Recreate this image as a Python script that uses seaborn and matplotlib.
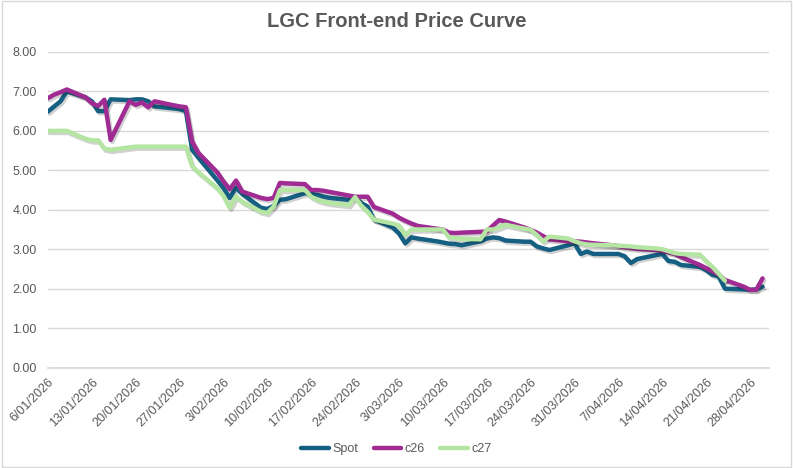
import matplotlib
matplotlib.use("Agg")
import matplotlib.pyplot as plt
import matplotlib.patheffects as pe
from matplotlib.patches import Rectangle
from matplotlib.lines import Line2D
import numpy as np
import pandas as pd
import seaborn as sns

# ── Data (business days 6 Jan – 30 Apr 2026) ────────────────────────
dates = pd.bdate_range("2026-01-06", "2026-04-30")

spot = [
    6.49, 6.62, 6.75, 7.00,
    6.85, 6.75, 6.50, 6.50, 6.80,
    6.78, 6.80, 6.80, 6.75, 6.62,
    6.57, 6.55, 6.50, 5.52, 5.32,
    4.75, 4.55, 4.30, 4.56, 4.40,
    4.05, 4.02, 4.10, 4.25, 4.27,
    4.42, 4.40, 4.38, 4.33, 4.30,
    4.25, 4.32, 4.17, 4.08, 3.75,
    3.55, 3.40, 3.15, 3.30, 3.27,
    3.20, 3.17, 3.14, 3.13, 3.10,
    3.20, 3.27, 3.30, 3.28, 3.22,
    3.19, 3.19, 3.07, 3.02, 2.98,
    3.10, 3.15,
    2.88, 2.94, 2.88,
    2.88, 2.88, 2.82, 2.65, 2.75,
    2.85, 2.88, 2.70, 2.68, 2.60,
    2.55, 2.47, 2.35, 2.31, 2.00,
    1.98, 1.97, 1.98, 2.05,
]

c26 = [
    6.83, 6.92, 6.98, 7.05,
    6.85, 6.70, 6.63, 6.79, 5.77,
    6.75, 6.66, 6.72, 6.60, 6.75,
    6.65, 6.62, 6.60, 5.73, 5.44,
    4.95, 4.72, 4.52, 4.74, 4.46,
    4.30, 4.27, 4.30, 4.68, 4.67,
    4.65, 4.50, 4.50, 4.48, 4.45,
    4.36, 4.33, 4.33, 4.33, 4.07,
    3.90, 3.80, 3.72, 3.65, 3.59,
    3.52, 3.50, 3.42, 3.41, 3.42,
    3.44, 3.45, 3.60, 3.74, 3.70,
    3.55, 3.49, 3.42, 3.33, 3.25,
    3.20, 3.20,
    3.19, 3.17, 3.15,
    3.10, 3.08, 3.05, 3.03, 3.01,
    2.98, 2.96, 2.92, 2.88, 2.80,
    2.60, 2.52, 2.44, 2.36, 2.22,
    2.05, 1.97, 1.97, 2.26,
]

c27 = [
    6.00, 6.00, 6.00, 6.00,
    5.80, 5.76, 5.76, 5.55, 5.52,
    5.58, 5.60, 5.60, 5.60, 5.60,
    5.60, 5.60, 5.60, 5.10, 4.95,
    4.55, 4.35, 4.05, 4.34, 4.20,
    3.95, 3.92, 4.08, 4.50, 4.50,
    4.50, 4.33, 4.25, 4.20, 4.17,
    4.12, 4.32, 4.10, 3.95, 3.75,
    3.65, 3.60, 3.36, 3.50, 3.50,
    3.50, 3.50, 3.30, 3.28, 3.26,
    3.25, 3.50, 3.50, 3.55, 3.62,
    3.52, 3.49, 3.36, 3.20, 3.32,
    3.27, 3.20,
    3.15, 3.12, 3.11,
    3.10, 3.09, 3.08, 3.07, 3.05,
    3.02, 3.00, 2.95, 2.90, 2.88,
    2.86, 2.70, 2.55, 2.38, 2.20,
    np.nan, np.nan, np.nan, np.nan,
]

series_names = ["Spot", "c26", "c27"]
colors = {"Spot": "#156082", "c26": "#A02B93", "c27": "#B4E5A2"}

df = pd.DataFrame({"Date": dates, "Spot": spot, "c26": c26, "c27": c27})
long_df = df.melt(id_vars="Date", var_name="Series", value_name="Price").dropna()

# ── Theme ────────────────────────────────────────────────────────────
sns.set_theme(style="white")
plt.rcParams["font.family"] = ["Liberation Sans", "DejaVu Sans"]
text_grey = "#595959"

fig = plt.figure(figsize=(7.93, 4.68), dpi=100)
ax = fig.add_axes([0.0605, 0.2147, 0.909, 0.6742])

sns.lineplot(
    data=long_df, x="Date", y="Price", hue="Series",
    hue_order=series_names, palette=colors,
    linewidth=3.2, legend=False, ax=ax,
)
for line in ax.lines:
    line.set_solid_joinstyle("round")
    line.set_solid_capstyle("round")
    line.set_path_effects([
        pe.SimpleLineShadow(offset=(1.2, -1.5), shadow_color="black", alpha=0.18),
        pe.Normal(),
    ])

# axes
ax.set_ylim(0, 8)
ax.set_yticks(np.arange(0, 9, 1))
ax.yaxis.set_major_formatter(plt.FuncFormatter(lambda v, _: f"{v:.2f}"))
ax.grid(axis="y", color="#d9d9d9", linewidth=1)
ax.set_axisbelow(True)

start = pd.Timestamp("2026-01-06")
ax.set_xlim(start, pd.Timestamp("2026-05-01"))
tick_dates = pd.date_range(start, "2026-04-28", freq="7D")
ax.set_xticks(tick_dates)
ax.set_xticklabels([f"{d.day}/{d.month:02d}/{d.year}" for d in tick_dates],
                   rotation=45, ha="right", rotation_mode="anchor")
ax.tick_params(axis="x", length=4, color="#d9d9d9", colors=text_grey, labelsize=9, pad=2)
ax.tick_params(axis="y", length=0, colors=text_grey, labelsize=9, pad=8)
ax.set_xlabel("")
ax.set_ylabel("")
for s in ["top", "right", "left"]:
    ax.spines[s].set_visible(False)
ax.spines["bottom"].set_color("#d9d9d9")

fig.text(0.5, 0.953, "LGC Front-end Price Curve", ha="center", va="center",
         fontsize=14.5, fontweight="bold", color=text_grey)

handles = [Line2D([0], [0], color=colors[n], lw=3.2, solid_capstyle="round") for n in series_names]
fig.legend(handles, series_names, loc="center", bbox_to_anchor=(0.5, 0.04), ncol=3,
           frameon=False, fontsize=9, handlelength=2.2, handletextpad=0.3,
           columnspacing=1.2, labelcolor=text_grey)

fig.patches.append(Rectangle((0.002, 0.003), 0.996, 0.994, transform=fig.transFigure,
                             fill=False, edgecolor="#d9d9d9", linewidth=1))

fig.savefig("out.png", dpi=100)
